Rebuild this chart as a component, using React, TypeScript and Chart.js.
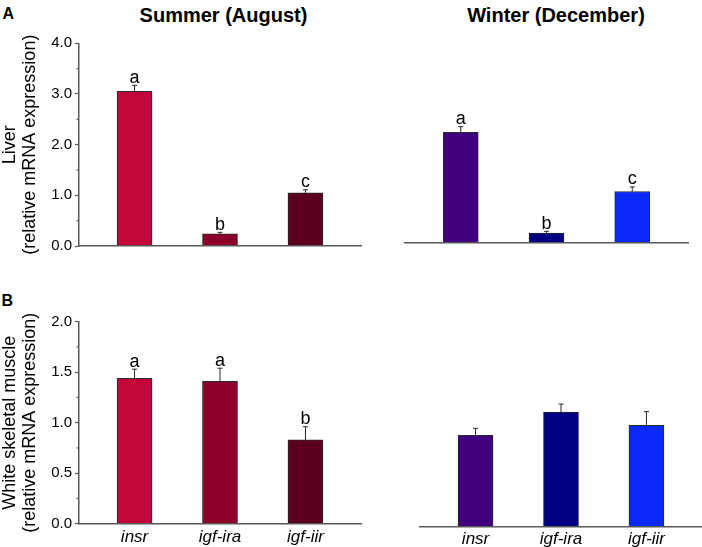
import { useEffect, useRef } from "react";
import { Chart, registerables } from "chart.js";

Chart.register(...registerables);

const FONT = "'Liberation Sans', Arial, Helvetica, sans-serif";

// genes on the x axis
const genes = ["insr", "igf-ira", "igf-iir"];

// liver, summer (August)
const liverSummer = [3.05, 0.24, 1.05];
const liverSummerSem = [0.12, 0.03, 0.06];
const liverSummerLetters = ["a", "b", "c"];

// liver, winter (December)
const liverWinter = [2.18, 0.19, 1.01];
const liverWinterSem = [0.11, 0.035, 0.09];
const liverWinterLetters = ["a", "b", "c"];

// white skeletal muscle, summer
const muscleSummer = [1.44, 1.41, 0.83];
const muscleSummerSem = [0.09, 0.13, 0.13];
const muscleSummerLetters = ["a", "a", "b"];

// white skeletal muscle, winter
const muscleWinter = [0.9, 1.13, 1.0];
const muscleWinterSem = [0.07, 0.08, 0.135];

// y axis ticks
const liverTicks = [0, 1, 2, 3, 4];
const liverMinor = [0.5, 1.5, 2.5, 3.5];
const muscleTicks = [0, 0.5, 1, 1.5, 2];
const muscleMinor = [0.25, 0.75, 1.25, 1.75];

const summerColors = ["#C1073A", "#8C0029", "#5A001E"];
const winterColors = ["#40007E", "#000080", "#0A28F8"];

const AXIS = "#585858";

interface PanelProps {
  box: [number, number, number, number]; // canvas left, top, width, height (page px)
  area: [number, number, number, number]; // plot left, top, right, bottom (page px)
  values: number[];
  sem: number[];
  letters?: string[];
  colors: string[];
  yTicks: number[];
  yMinor: number[];
  showY: boolean;
  yTitle?: string[];
  showX: boolean;
}

function Panel({ box, area, values, sem, letters, colors, yTicks, yMinor, showY, yTitle, showX }: PanelProps) {
  const ref = useRef<HTMLCanvasElement>(null);

  useEffect(() => {
    if (!ref.current) return;
    const [bl, bt, bw, bh] = box;
    const [al, at, ar, ab] = area;

    // error bars, significance letters and minor ticks
    const decor = {
      id: "decor",
      afterDatasetsDraw(chart: Chart) {
        const { ctx } = chart;
        const y = chart.scales.y;
        const meta = chart.getDatasetMeta(0);
        ctx.save();
        ctx.strokeStyle = "#262626";
        ctx.lineWidth = 1;
        meta.data.forEach((bar: any, i: number) => {
          const base = y.getPixelForValue(values[i]);
          const top = y.getPixelForValue(values[i] + sem[i]);
          ctx.beginPath();
          ctx.moveTo(bar.x, base);
          ctx.lineTo(bar.x, top);
          ctx.moveTo(bar.x - 2.5, top);
          ctx.lineTo(bar.x + 2.5, top);
          ctx.stroke();
          if (letters && letters[i]) {
            ctx.fillStyle = "#000";
            ctx.font = `18px ${FONT}`;
            ctx.textAlign = "center";
            ctx.textBaseline = "alphabetic";
            ctx.fillText(letters[i], bar.x, top - 2.5);
          }
        });
        if (showY) {
          ctx.strokeStyle = AXIS;
          ctx.lineWidth = 1.2;
          yMinor.forEach((v) => {
            const py = y.getPixelForValue(v);
            ctx.beginPath();
            ctx.moveTo(y.right - 2.5, py);
            ctx.lineTo(y.right, py);
            ctx.stroke();
          });
        }
        ctx.restore();
      },
    };

    const chart = new Chart(ref.current, {
      type: "bar",
      data: {
        datasets: [
          {
            data: values.map((v, i) => ({ x: i + 1, y: v })),
            backgroundColor: colors,
            borderColor: "#2a2a2a",
            borderWidth: 1,
            barThickness: 35,
          },
        ],
      },
      plugins: [decor],
      options: {
        animation: false,
        responsive: true,
        maintainAspectRatio: false,
        events: [],
        layout: {
          padding: {
            left: showY ? 0 : al - bl,
            right: bl + bw - ar,
            top: at - bt,
            bottom: 0,
          },
        },
        plugins: { legend: { display: false }, tooltip: { enabled: false } },
        scales: {
          x: {
            type: "linear",
            min: 0.35,
            max: 3.65,
            offset: false,
            afterBuildTicks: (s: any) => {
              s.ticks = genes.map((_, i) => ({ value: i + 1 }));
            },
            afterFit: (s: any) => {
              s.height = bt + bh - ab;
            },
            grid: { display: false, drawTicks: false },
            border: { display: true, color: AXIS, width: 1.5, z: 1 },
            ticks: {
              display: showX,
              autoSkip: false,
              maxRotation: 0,
              padding: 3,
              color: "#000",
              font: { family: FONT, size: 17, style: "italic" },
              callback: (v: any) => genes[Number(v) - 1],
            },
          },
          y: {
            display: showY,
            min: yTicks[0],
            max: yTicks[yTicks.length - 1],
            afterBuildTicks: (s: any) => {
              s.ticks = yTicks.map((value) => ({ value }));
            },
            afterFit: (s: any) => {
              if (showY) s.width = al - bl;
            },
            grid: {
              display: true,
              drawOnChartArea: false,
              drawTicks: true,
              tickLength: 4,
              tickColor: AXIS,
              tickWidth: 1.2,
            },
            border: { display: true, color: AXIS, width: 1.5, z: 1 },
            ticks: {
              padding: 3,
              color: "#000",
              font: { family: FONT, size: 15 },
              callback: (v: any) => Number(v).toFixed(1),
            },
            title: {
              display: !!yTitle,
              text: yTitle ?? "",
              color: "#000",
              padding: { top: 0, bottom: 0 },
              font: { family: FONT, size: 18, lineHeight: 1.1 },
            },
          },
        },
      },
    });
    return () => chart.destroy();
  }, []);

  const [bl, bt, bw, bh] = box;
  return (
    <div style={{ position: "absolute", left: bl, top: bt, width: bw, height: bh }}>
      <canvas ref={ref} />
    </div>
  );
}

function Label({ text, x, baseline, size, center }: { text: string; x: number; baseline: number; size: number; center?: boolean }) {
  const top = baseline - 0.8465 * size;
  return (
    <div
      style={{
        position: "absolute",
        left: center ? x - 150 : x,
        top,
        width: center ? 300 : undefined,
        textAlign: center ? "center" : "left",
        font: `bold ${size}px ${FONT}`,
        lineHeight: `${size}px`,
        color: "#000",
        whiteSpace: "nowrap",
      }}
    >
      {text}
    </div>
  );
}

export default function App() {
  return (
    <div style={{ position: "absolute", left: 0, top: 0, width: 702, height: 547, background: "#fff", overflow: "hidden" }}>
      <Label text="A" x={2.5} baseline={20} size={16} />
      <Label text="B" x={1.5} baseline={306.3} size={16} />
      <Label text="Summer (August)" x={223.5} baseline={21.5} size={20} center />
      <Label text="Winter (December)" x={556} baseline={21.5} size={20} center />
      <Panel
        box={[0, 0, 362, 273]}
        area={[79, 43.3, 361, 246]}
        values={liverSummer}
        sem={liverSummerSem}
        letters={liverSummerLetters}
        colors={summerColors}
        yTicks={liverTicks}
        yMinor={liverMinor}
        showY
        yTitle={["Liver", "(relative mRNA expression)"]}
        showX={false}
      />
      <Panel
        box={[362, 0, 340, 273]}
        area={[405, 40, 688, 242.7]}
        values={liverWinter}
        sem={liverWinterSem}
        letters={liverWinterLetters}
        colors={winterColors}
        yTicks={liverTicks}
        yMinor={liverMinor}
        showY={false}
        showX={false}
      />
      <Panel
        box={[0, 273, 362, 274]}
        area={[79, 321.7, 361, 523.7]}
        values={muscleSummer}
        sem={muscleSummerSem}
        letters={muscleSummerLetters}
        colors={summerColors}
        yTicks={muscleTicks}
        yMinor={muscleMinor}
        showY
        yTitle={["White skeletal muscle", "(relative mRNA expression)"]}
        showX
      />
      <Panel
        box={[362, 273, 340, 274]}
        area={[420, 324.3, 702, 526.3]}
        values={muscleWinter}
        sem={muscleWinterSem}
        colors={winterColors}
        yTicks={muscleTicks}
        yMinor={muscleMinor}
        showY={false}
        showX
      />
    </div>
  );
}
